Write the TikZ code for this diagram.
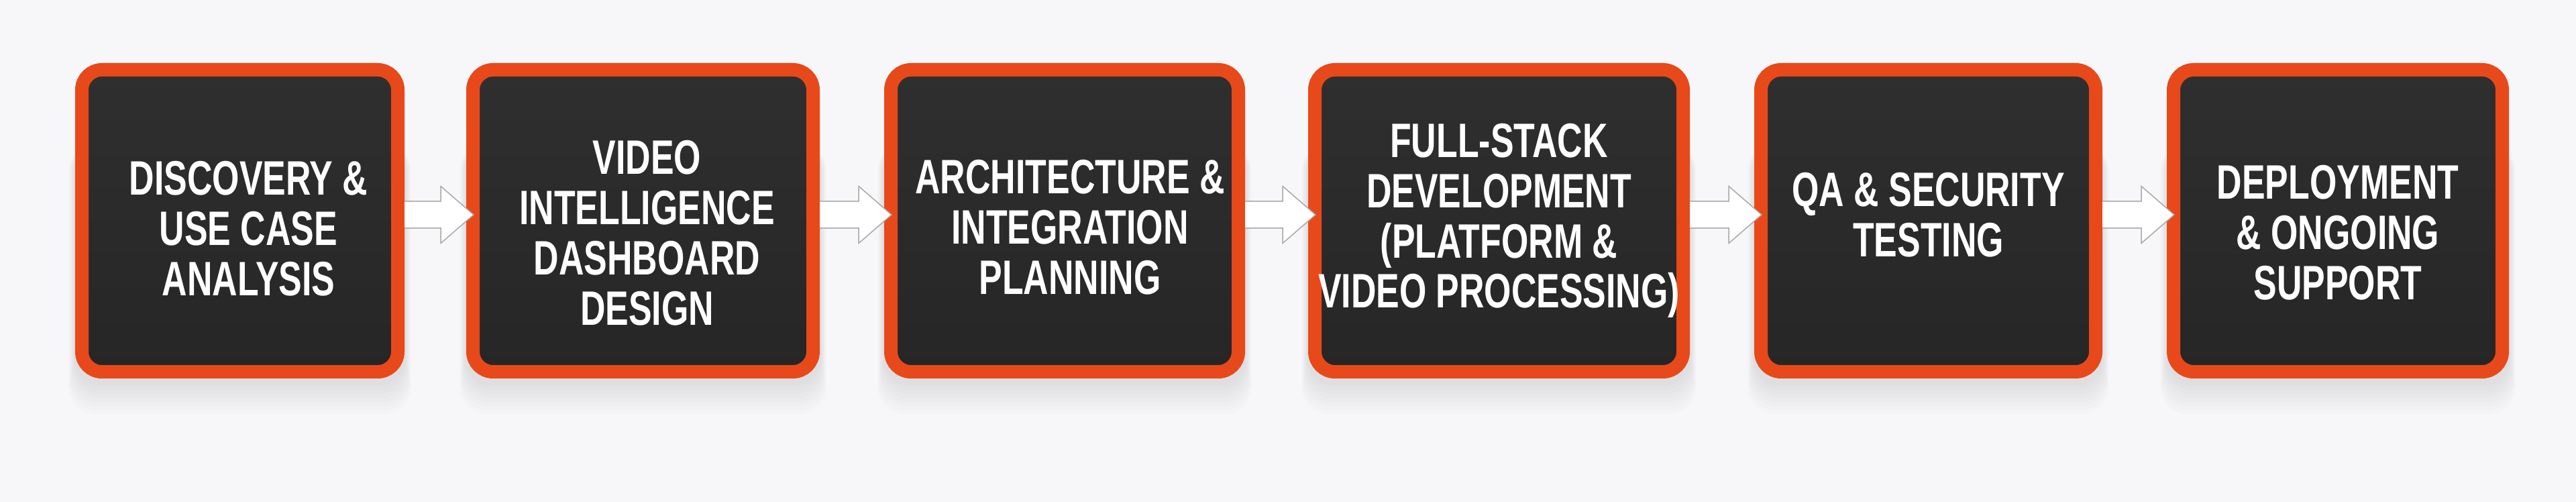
\documentclass[tikz,border=0pt]{standalone}
\usepackage{fontspec}
\newfontfamily\stagefont{Liberation Sans}[FakeStretch=0.72]
\usepackage{tikz}
\usetikzlibrary{positioning,calc,backgrounds}
\usepackage{xcolor}
\definecolor{bgcol}{HTML}{F7F7F9}
\definecolor{stageorange}{HTML}{E8491A}
\definecolor{stagetop}{HTML}{2F2F2F}
\definecolor{stagebottom}{HTML}{262626}
\definecolor{arrowgray}{HTML}{A8A8A8}

\begin{document}
\begin{tikzpicture}[
    stage/.style={rectangle, draw=stageorange, line width=0.2cm, rounded corners=0.3cm, top color=stagetop, bottom color=stagebottom, minimum height=4.5cm, inner sep=0pt},
    stagetext/.style={text=white, align=center, inner sep=0pt, font=\stagefont\bfseries\fontsize{20.5}{21.3}\selectfont},
    flow/.style={fill=white, draw=arrowgray, line width=0.015cm, line join=miter,
        to path={let \p1=($(\tikztostart.east)+(0,0.09)$), \p2=($(\tikztotarget.west)+(0.11,0.09)$) in
            (\x1,\y1-0.2cm) -- (\x2-0.49cm,\y1-0.2cm) -- (\x2-0.49cm,\y1-0.425cm) -- (\x2,\y1)
            -- (\x2-0.49cm,\y1+0.425cm) -- (\x2-0.49cm,\y1+0.2cm) -- (\x1,\y1+0.2cm)}}
]
\useasboundingbox (0,0) rectangle (38.4,7.48);

% Stages
\node[stage, minimum width=4.71cm] (s1) at (3.575,4.19) {};
\node[stage, minimum width=5.07cm, right=0.92cm of s1] (s2) {};
\node[stage, minimum width=5.18cm, right=0.96cm of s2] (s3) {};
\node[stage, minimum width=5.49cm, right=0.94cm of s3] (s4) {};
\node[stage, minimum width=4.99cm, right=0.96cm of s4] (s5) {};
\node[stage, minimum width=4.90cm, right=0.96cm of s5] (s6) {};

% Labels
\node[stagetext] (t1) at ($(s1.center)+(0.13,-0.12)$) {DISCOVERY \&\\USE CASE\\ANALYSIS};
\node[stagetext] (t2) at ($(s2.center)+(0.06,-0.18)$) {VIDEO\\INTELLIGENCE\\DASHBOARD\\DESIGN};
\node[stagetext] (t3) at ($(s3.center)+(0.08,-0.10)$) {ARCHITECTURE \&\\INTEGRATION\\PLANNING};
\node[stagetext] (t4) at ($(s4.center)+(0,0)$) {FULL-STACK\\DEVELOPMENT\\(PLATFORM \&\\VIDEO PROCESSING)};
\node[stagetext] (t5) at ($(s5.center)+(0,0.09)$) {QA \& SECURITY\\TESTING};
\node[stagetext] (t6) at ($(s6.center)+(0,-0.18)$) {DEPLOYMENT\\\& ONGOING\\SUPPORT};

% Arrows
\draw[flow] (s1) to (s2);
\draw[flow] (s2) to (s3);
\draw[flow] (s3) to (s4);
\draw[flow] (s4) to (s5);
\draw[flow] (s5) to (s6);

% Background and shadows
\begin{scope}[on background layer]
\fill[bgcol] (0,0) rectangle (38.4,7.48);
\foreach \n in {1,...,6}
  \foreach \k in {1,...,8}
    \fill[black, opacity=0.013, rounded corners=0.4cm] ($(s\n.south west)+(-0.012*\k,-0.05-0.06*\k)$) rectangle ($(s\n.north east)+(0.012*\k,-1.2)$);
\end{scope}

\end{tikzpicture}
\end{document}
